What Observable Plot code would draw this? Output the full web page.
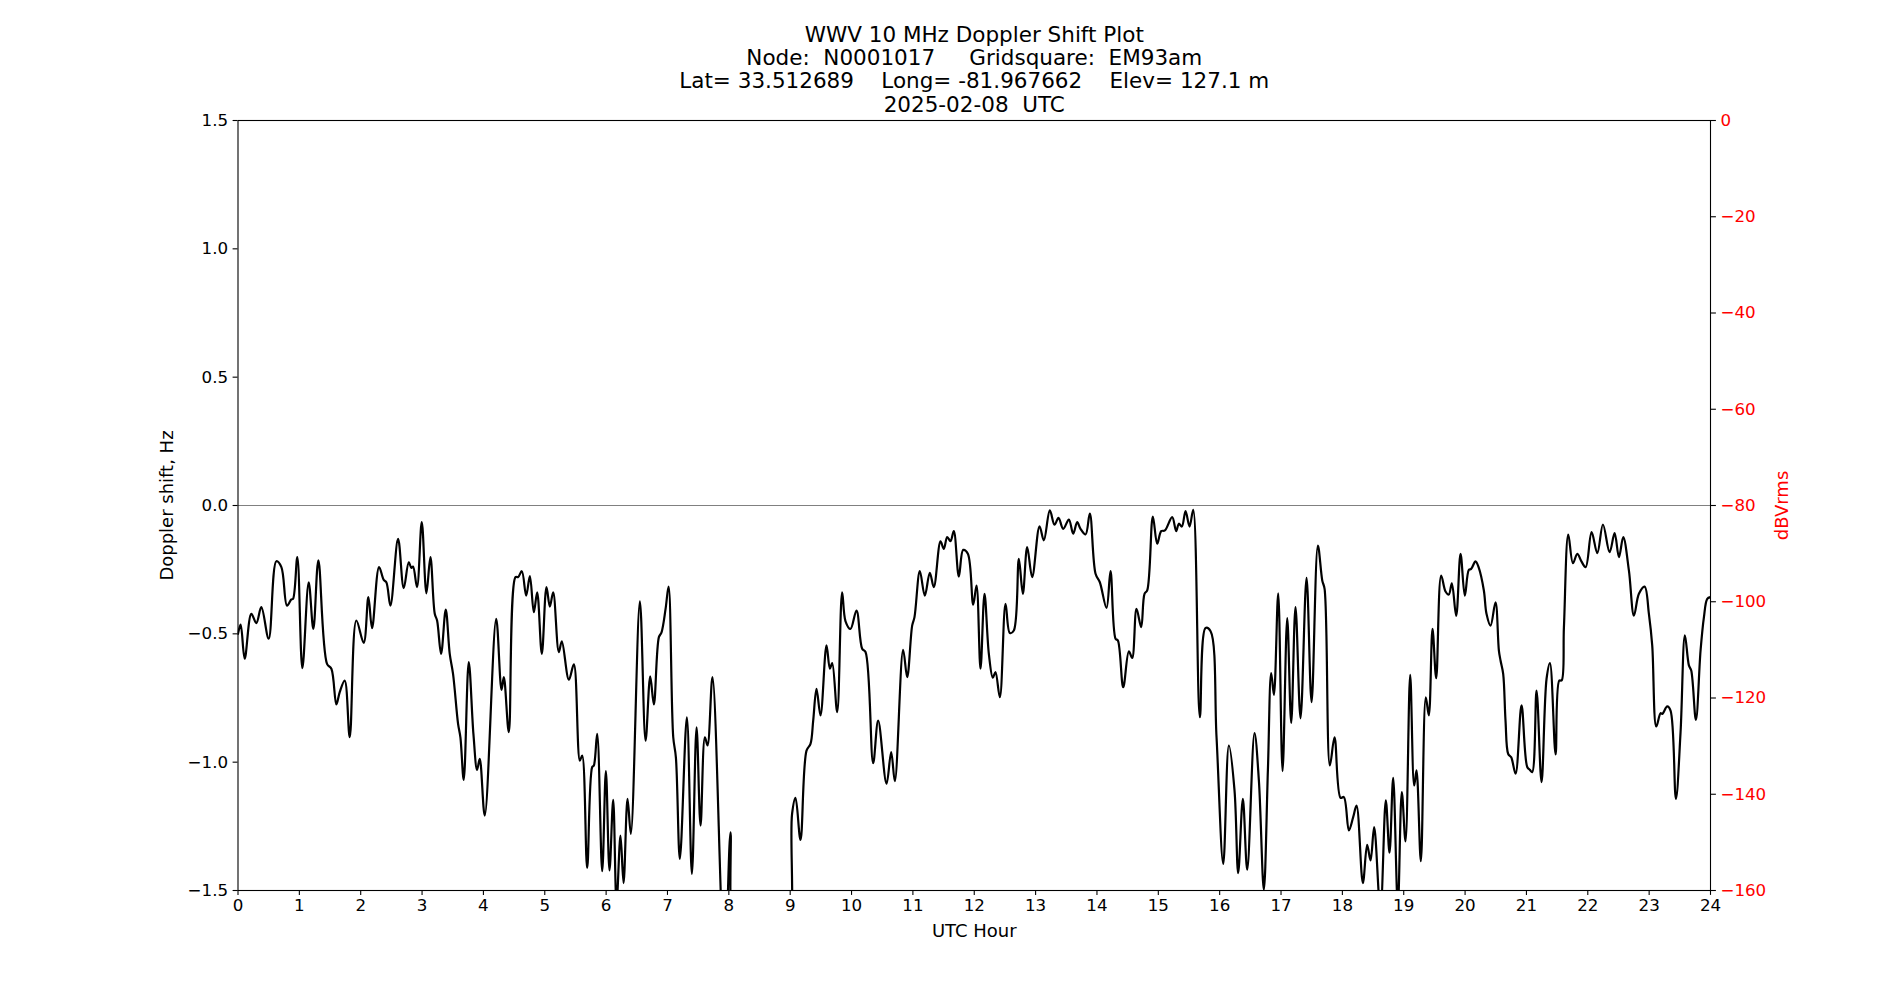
<!DOCTYPE html>
<html>
<head>
<meta charset="utf-8">
<script src="https://cdn.jsdelivr.net/npm/d3@7"></script>
<script src="https://cdn.jsdelivr.net/npm/@observablehq/plot@0.6"></script>
<style>
  html, body { margin: 0; padding: 0; background: #fff; }
  svg text { white-space: pre; }
</style>
</head>
<body>
<div id="chart"></div>
<script>
// ---- Data ----
const utcHours = [
  0, 0.043, 0.109, 0.217, 0.299, 0.380, 0.5, 0.625, 0.707, 0.799, 0.870, 0.897, 0.967,
  1.049, 1.152, 1.228, 1.310, 1.451, 1.522, 1.603, 1.658, 1.739, 1.821, 1.929,
  2.049, 2.125, 2.185, 2.299, 2.375, 2.418, 2.484, 2.609, 2.701, 2.783, 2.826, 2.853, 2.918, 2.995,
  3.071, 3.136, 3.207, 3.245, 3.310, 3.386, 3.451, 3.505, 3.587, 3.625, 3.679, 3.761, 3.837, 3.897, 3.940,
  4.022, 4.208, 4.295, 4.333, 4.414, 4.523, 4.566, 4.626, 4.697, 4.757, 4.822, 4.876, 4.952,
  5.028, 5.083, 5.137, 5.229, 5.278, 5.393, 5.474, 5.572, 5.610, 5.691, 5.773, 5.800, 5.854, 5.936, 5.996,
  6.055, 6.115, 6.170, 6.234, 6.284, 6.349, 6.403, 6.550, 6.643, 6.719, 6.778, 6.860, 6.903, 6.969,
  7.018, 7.094, 7.137, 7.202, 7.316, 7.398, 7.474, 7.539, 7.610, 7.653, 7.734, 7.93,
  8.027, 8.10, 8.5, 8.95,
  9.031, 9.087, 9.168, 9.266, 9.331, 9.375, 9.429, 9.494, 9.592, 9.647, 9.685, 9.766, 9.847, 9.902, 9.983,
  10.081, 10.173, 10.228, 10.352, 10.434, 10.570, 10.646, 10.706, 10.841, 10.907, 10.988,
  11.026, 11.113, 11.194, 11.276, 11.341, 11.450, 11.504, 11.559, 11.613, 11.667, 11.749, 11.820, 11.896, 11.983,
  12.037, 12.102, 12.167, 12.238, 12.303, 12.346, 12.417, 12.510, 12.580, 12.645, 12.727, 12.792, 12.863, 12.944,
  13.064, 13.134, 13.232, 13.308, 13.373, 13.450, 13.542, 13.613, 13.678, 13.732, 13.814, 13.884, 13.977,
  14.047, 14.156, 14.221, 14.303, 14.341, 14.428, 14.520, 14.574, 14.645, 14.721, 14.775, 14.819, 14.911, 14.982,
  15.047, 15.107, 15.226, 15.291, 15.335, 15.384, 15.444, 15.509, 15.569, 15.677, 15.770, 15.852, 15.949,
  16.058, 16.150, 16.242, 16.302, 16.378, 16.449, 16.568, 16.639, 16.720, 16.786, 16.840, 16.884, 16.954,
  17.025, 17.101, 17.166, 17.236, 17.318, 17.416, 17.498, 17.601, 17.672, 17.710, 17.796, 17.872, 17.970,
  18.024, 18.106, 18.176, 18.231, 18.334, 18.404, 18.459, 18.518, 18.62, 18.708, 18.768, 18.828, 18.904, 18.969,
  19.029, 19.105, 19.170, 19.208, 19.279, 19.360, 19.409, 19.469, 19.529, 19.610, 19.681, 19.735, 19.784, 19.855, 19.926, 19.996,
  20.061, 20.099, 20.170, 20.224, 20.306, 20.349, 20.415, 20.496, 20.551, 20.578, 20.621, 20.659, 20.703, 20.752, 20.823, 20.920,
  21.013, 21.056, 21.094, 21.165, 21.246, 21.328, 21.383, 21.475, 21.535, 21.573, 21.611, 21.682, 21.758, 21.829, 21.894, 21.965,
  22.062, 22.155, 22.247, 22.356, 22.437, 22.508, 22.578, 22.670, 22.752, 22.833, 22.926, 22.996,
  23.050, 23.116, 23.186, 23.213, 23.295, 23.349, 23.436, 23.512, 23.583, 23.648, 23.686, 23.762, 23.838, 23.893, 23.947, 24.0
];
const dopplerHz = [
  -0.5, -0.464, -0.597, -0.422, -0.458, -0.396, -0.519, -0.217, -0.240, -0.390, -0.366, -0.364, -0.201,
  -0.634, -0.299, -0.481, -0.214, -0.617, -0.636, -0.775, -0.727, -0.682, -0.903, -0.448,
  -0.535, -0.357, -0.478, -0.240, -0.290, -0.299, -0.390, -0.130, -0.322, -0.221, -0.243, -0.238, -0.318, -0.065,
  -0.342, -0.201, -0.422, -0.448, -0.578, -0.406, -0.578, -0.656, -0.851, -0.903, -1.069, -0.610, -0.890, -1.030, -0.987,
  -1.208, -0.442, -0.718, -0.669, -0.883, -0.279, -0.279, -0.256, -0.351, -0.275, -0.416, -0.338, -0.578,
  -0.318, -0.394, -0.338, -0.571, -0.529, -0.679, -0.619, -0.994, -0.974, -1.412, -1.019, -1.013, -0.890, -1.425, -1.035,
  -1.422, -1.147, -1.55, -1.286, -1.471, -1.143, -1.279, -0.373, -0.916, -0.666, -0.775, -0.513, -0.494, -0.403,
  -0.316, -0.903, -0.981, -1.377, -0.825, -1.435, -0.864, -1.247, -0.903, -0.935, -0.669, -1.8,
  -1.273, -1.8, -2.0, -1.8,
  -1.201, -1.139, -1.303, -0.955, -0.929, -0.838, -0.714, -0.818, -0.545, -0.636, -0.614, -0.805, -0.338, -0.451, -0.481,
  -0.409, -0.558, -0.571, -1.004, -0.838, -1.084, -0.961, -1.074, -0.562, -0.669, -0.468,
  -0.435, -0.256, -0.351, -0.262, -0.318, -0.140, -0.169, -0.123, -0.139, -0.100, -0.277, -0.173, -0.188, -0.386,
  -0.312, -0.636, -0.344, -0.578, -0.671, -0.649, -0.747, -0.383, -0.497, -0.487, -0.208, -0.344, -0.162, -0.279,
  -0.081, -0.136, -0.019, -0.075, -0.048, -0.091, -0.055, -0.110, -0.065, -0.091, -0.113, -0.032, -0.266,
  -0.299, -0.399, -0.256, -0.519, -0.526, -0.708, -0.568, -0.594, -0.403, -0.474, -0.344, -0.331, -0.043, -0.149,
  -0.100, -0.097, -0.045, -0.100, -0.071, -0.082, -0.022, -0.082, -0.017, -0.825, -0.477, -0.490, -0.903,
  -1.396, -0.935, -1.110, -1.432, -1.143, -1.419, -0.887, -1.071, -1.497, -1.032, -0.653, -0.738, -0.342,
  -1.035, -0.439, -0.847, -0.396, -0.829, -0.282, -0.766, -0.156, -0.292, -0.325, -1.013, -0.903, -1.139,
  -1.136, -1.266, -1.214, -1.169, -1.471, -1.322, -1.383, -1.253, -1.58, -1.149, -1.353, -1.061, -1.56, -1.117,
  -1.309, -0.660, -1.091, -1.032, -1.386, -0.747, -0.818, -0.481, -0.673, -0.273, -0.335, -0.347, -0.303, -0.430, -0.188, -0.351,
  -0.251, -0.247, -0.218, -0.243, -0.331, -0.422, -0.468, -0.377, -0.565, -0.604, -0.656, -0.838, -0.968, -0.981, -1.045, -0.779,
  -1.019, -1.030, -1.039, -0.721, -1.078, -0.675, -0.614, -0.970, -0.682, -0.682, -0.474, -0.113, -0.225, -0.188, -0.217, -0.240,
  -0.104, -0.186, -0.074, -0.182, -0.108, -0.201, -0.123, -0.253, -0.429, -0.344, -0.316, -0.422,
  -0.545, -0.861, -0.809, -0.812, -0.783, -0.799, -1.143, -0.883, -0.506, -0.623, -0.643, -0.835, -0.565, -0.435, -0.364, -0.357
];
const xTicks = d3.range(0, 25, 1);
const yTicks = [-1.5, -1.0, -0.5, 0.0, 0.5, 1.0, 1.5];
const dbTicks = [0, -20, -40, -60, -80, -100, -120, -140, -160];
const dbDomain = [-160, 0];
const yDomain = [-1.5, 1.5];
const titleLines = [
  "WWV 10 MHz Doppler Shift Plot",
  "Node:  N0001017     Gridsquare:  EM93am",
  "Lat= 33.512689    Long= -81.967662    Elev= 127.1 m",
  "2025-02-08  UTC"
];
const xLabel = "UTC Hour";
const yLabel = "Doppler shift, Hz";
const y2Label = "dBVrms";

// ---- Build ----
const data = utcHours.map((h, i) => ({h, v: dopplerHz[i]}));
// map a dBVrms value onto the shared y scale (right axis)
const dbToY = d3.scaleLinear().domain(dbDomain).range(yDomain);
const fmtMinus = s => s.replace("-", "\u2212");

const font = "DejaVu Sans, Liberation Sans, sans-serif";
const chart = Plot.plot({
  width: 1900,
  height: 1000,
  marginLeft: 237.5,
  marginRight: 190,
  marginTop: 120,
  marginBottom: 110,
  style: {fontFamily: font, fontSize: "16.7px", background: "#fff", color: "#000"},
  x: {domain: [0, 24]},
  y: {domain: yDomain},
  marks: [
    Plot.ruleY([0], {stroke: "#808080", strokeWidth: 1.1}),
    Plot.line(data, {x: "h", y: "v", stroke: "#000", strokeWidth: 2.2, curve: "catmull-rom", clip: true}),
    Plot.frame({stroke: "#000", strokeWidth: 1.1}),
    Plot.axisX(xTicks, {anchor: "bottom", tickSize: 4.9, tickPadding: 4, strokeWidth: 1.1,
      tickFormat: d => String(d), label: null, fontSize: 16.7}),
    Plot.axisY(yTicks, {anchor: "left", tickSize: 4.9, tickPadding: 5, strokeWidth: 1.1,
      tickFormat: d => fmtMinus(d.toFixed(1)), label: null, fontSize: 16.7}),
    Plot.axisY(dbTicks.map(d => dbToY(d)), {anchor: "right", tickSize: 4.9, tickPadding: 5, strokeWidth: 1.1,
      stroke: "#000", fill: "#ff0000",
      tickFormat: d => fmtMinus(String(Math.round(dbToY.invert(d)))), label: null, fontSize: 16.7}),
    Plot.text([titleLines.join("\n")], {frameAnchor: "top", text: d => d, lineAnchor: "bottom",
      dy: -9, lineHeight: 1.08, fontSize: 21.5, fill: "#000"}),
    Plot.text([xLabel], {frameAnchor: "bottom", text: d => d, dy: 41, lineAnchor: "middle", fontSize: 18, fill: "#000"}),
    Plot.text([yLabel], {frameAnchor: "left", text: d => d, dx: -70.5, rotate: -90, textAnchor: "middle",
      lineAnchor: "middle", fontSize: 18, fill: "#000"}),
    Plot.text([y2Label], {frameAnchor: "right", text: d => d, dx: 72, rotate: -90, textAnchor: "middle",
      lineAnchor: "middle", fontSize: 18, fill: "#ff0000"})
  ]
});
document.getElementById("chart").appendChild(chart);
</script>
</body>
</html>
